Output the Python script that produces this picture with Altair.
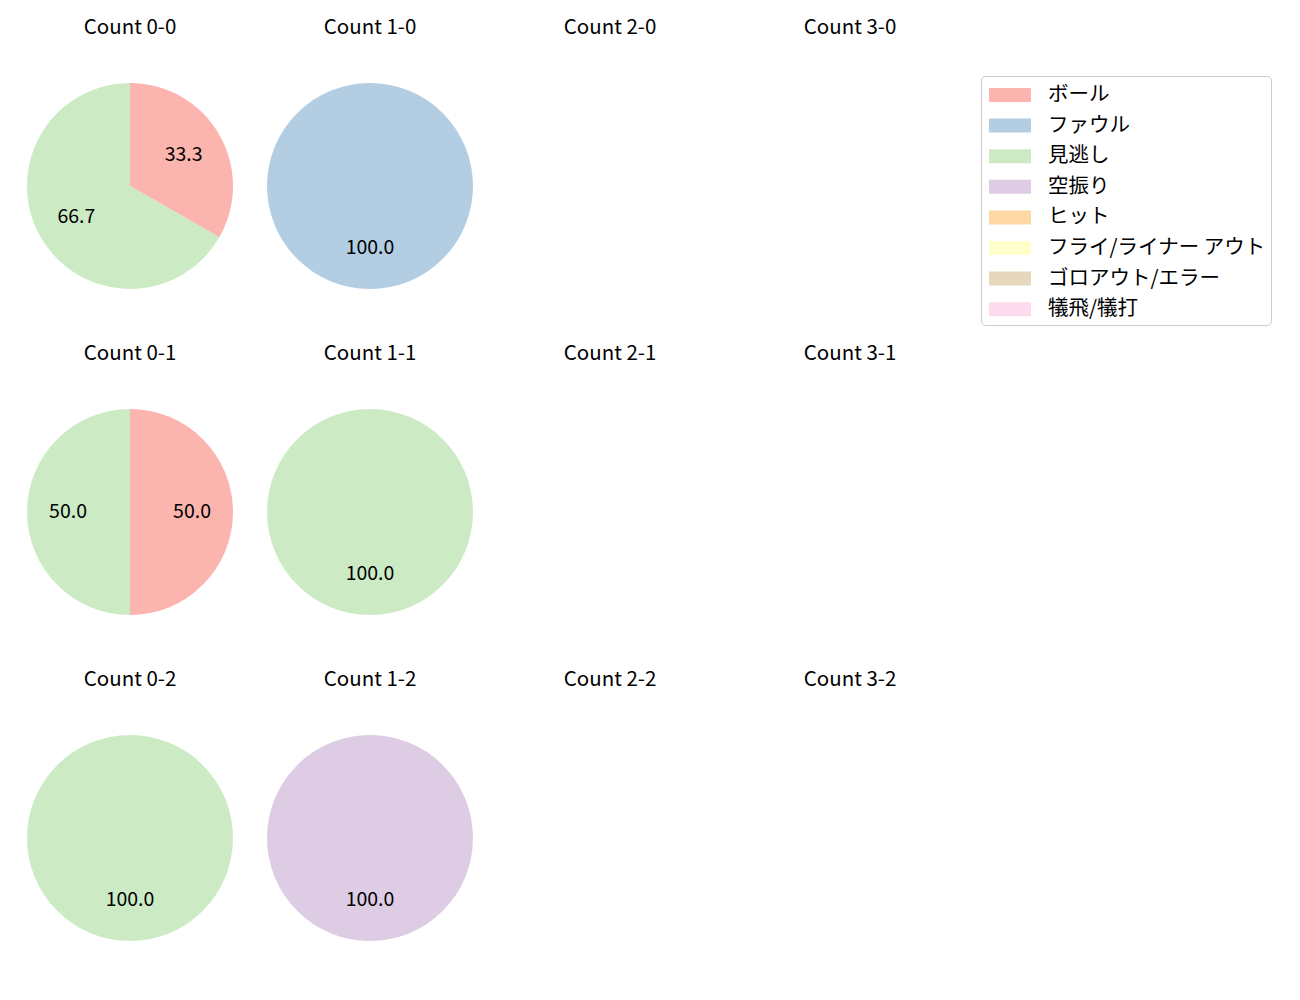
import altair as alt
import pandas as pd

FONT = "Noto Sans CJK JP"

categories = ["ボール", "ファウル", "見逃し", "空振り", "ヒット",
              "フライ/ライナー アウト", "ゴロアウト/エラー", "犠飛/犠打"]
colors = ["#fbb4ae", "#b3cde3", "#ccebc5", "#decbe4", "#fed9a6",
          "#ffffcc", "#e5d8bd", "#fddaec"]

balls = [0, 1, 2, 3]
strikes = [0, 1, 2]

panel_keys = ["0-0", "1-0", "0-1", "1-1", "0-2", "1-2"]
panel_cats = [["ボール", "見逃し"], ["ファウル"], ["ボール", "見逃し"],
              ["見逃し"], ["見逃し"], ["空振り"]]
panel_vals = [[33.3, 66.7], [100.0], [50.0, 50.0], [100.0], [100.0], [100.0]]

PW, PH = 240, 326
CX, CY = 120, 186
R = 103

color_scale = alt.Scale(domain=categories, range=colors)
legend = alt.Legend(
    title=None, orient="none", legendX=971, legendY=76,
    symbolType="M-1.5,-0.5H1.5V0.5H-1.5Z", symbolSize=784,
    symbolStrokeWidth=0, symbolOffset=10,
    labelFont=FONT, labelFontSize=20.5, labelLimit=500,
    labelOffset=24, rowPadding=5.6, padding=5,
    strokeColor="#cccccc", cornerRadius=4, fillColor="white",
)


def panel(b, s):
    key = f"{b}-{s}"
    title = alt.Chart(pd.DataFrame({"t": [f"Count {key}"]})).mark_text(
        font=FONT, fontSize=20.5, baseline="middle", align="center", color="black"
    ).encode(text="t:N", x=alt.value(CX), y=alt.value(28))
    layers = []
    if key in panel_keys:
        i = panel_keys.index(key)
        cats = panel_cats[i]
        df = pd.DataFrame({
            "cat": cats,
            "v": panel_vals[i],
            "idx": [categories.index(c) for c in cats],
        })
        arc = alt.Chart(df).mark_arc(outerRadius=R).encode(
            theta=alt.Theta("v:Q", stack=True),
            color=alt.Color("cat:N", scale=color_scale, legend=legend),
            order=alt.Order("idx:Q"),
            x=alt.value(CX), y=alt.value(CY),
        )
        txt = alt.Chart(df).mark_text(
            radius=62, font=FONT, fontSize=19.5, color="black",
            baseline="middle", align="center"
        ).encode(
            theta=alt.Theta("v:Q", stack=True),
            detail="cat:N",
            order=alt.Order("idx:Q"),
            text=alt.Text("v:Q", format=".1f"),
            x=alt.value(CX), y=alt.value(CY),
        )
        layers = [arc, txt]
    layers.append(title)
    return alt.layer(*layers).properties(width=PW, height=PH)


rows = [alt.hconcat(*[panel(b, s) for b in balls], spacing=0) for s in strikes]
chart = alt.vconcat(*rows, spacing=0).properties(
    padding={"left": 10, "top": 0, "right": 10, "bottom": 0},
    background="white",
).configure_view(strokeWidth=0).resolve_scale(color="shared")

chart.save("out.html", embed_options={"renderer": "svg", "actions": False})
